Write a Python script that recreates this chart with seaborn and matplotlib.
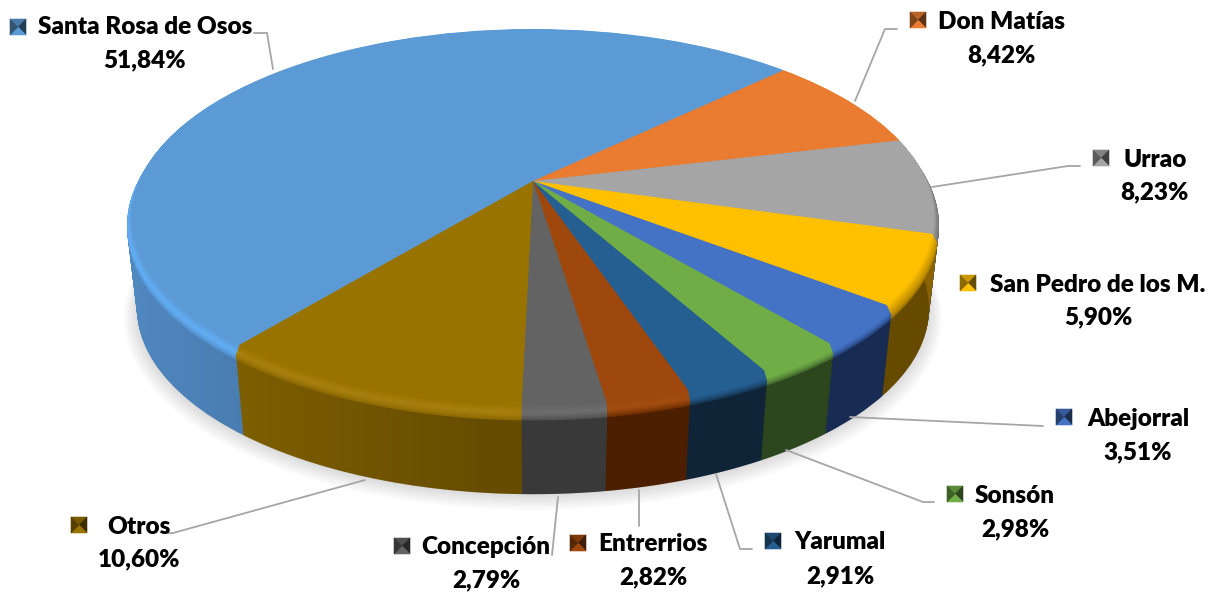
import numpy as np
import matplotlib
matplotlib.use("Agg")
import matplotlib.pyplot as plt
import seaborn as sns
from matplotlib.patches import Circle, Polygon
from matplotlib.transforms import Transform
from matplotlib.colors import to_rgb

# Data
municipios = ["Santa Rosa de Osos", "Don Matías", "Urrao", "San Pedro de los M.", "Abejorral",
              "Sonsón", "Yarumal", "Entrerrios", "Concepción", "Otros"]
porcentajes = [51.84, 8.42, 8.23, 5.90, 3.51, 2.98, 2.91, 2.82, 2.79, 10.60]

# Colours
top_colors = ["#5b9ad5", "#e97c30", "#a5a5a5", "#ffc000", "#4472c4",
              "#70ad47", "#255e91", "#9e480e", "#636363", "#997300"]
wall_colors = ["#5088c0", "#a85a22", "#5a5a5a", "#886300", "#213a6d",
               "#3b5d29", "#14304a", "#652a00", "#4c4c4c", "#886600"]
rim_colors = ["#62aef5", "#c86a28", "#808080", "#d09c00", "#4472c4",
              "#70ad47", "#255e91", "#a34c10", "#6e6e6e", "#a88010"]

# Label layout, in pixels of the 1212x593 picture
name_xy = [(145, 27), (1002, 22), (1155, 160), (1098, 285), (1138, 419),
           (1015, 496), (840, 542), (653, 544), (486, 547), (139, 527)]
pct_xy = [(145, 60), (1001, 55), (1154, 192), (1098, 317), (1138, 452),
          (1015, 529), (840, 576), (653, 577), (486, 580), (139, 559)]
key_xy = [(18, 27), (918, 20), (1101, 158), (968, 283), (1064, 417),
          (955, 494), (773, 541), (578, 543), (402, 546), (79, 525)]
leaders = [[(254, 33), (267, 33), (273, 69)],
           [(897, 29), (885, 29), (855, 101)],
           [(1080, 166), (1068, 166), (932, 187)],
           None,
           [(1043, 426), (850, 417)],
           [(934, 502), (923, 502), (786, 450)],
           [(752, 549), (740, 549), (716, 474)],
           [(639, 526), (639, 490)],
           [(552, 555), (558, 497)],
           [(165, 533), (173, 533), (365, 480)]]

CX, CY = 533, 181
A, B, K = 181.1, 393.6, 0.1915
DEPTH = 92


class Tilt(Transform):
    # perspective view of the unit circle, output in picture pixels
    input_dims = 2
    output_dims = 2
    is_affine = False
    has_inverse = False

    def __init__(self, drop=0, scale=1.0):
        super().__init__()
        self.drop = drop
        self.scale = scale

    def transform_non_affine(self, values):
        values = np.asarray(values, dtype=float)
        w = 1 + K * values[:, 1]
        return np.column_stack([CX + self.scale * B * values[:, 0] / w,
                                CY + self.drop - self.scale * A * values[:, 1] / w])


def mix(c1, c2, t):
    return tuple((1 - t) * a + t * b for a, b in zip(to_rgb(c1), to_rgb(c2)))


def layer_scale(d):
    if d <= 8:
        return 1 + 0.0125 * d / 8
    return 1.0125 - 0.025 * (d - 8) / (DEPTH - 8)


def layer_colors(d):
    out = []
    for top, rim, wall in zip(top_colors, rim_colors, wall_colors):
        if d >= 14:
            out.append(to_rgb(wall))
        elif d >= 6:
            out.append(mix(rim, wall, (d - 6) / 8))
        else:
            out.append(mix(top, rim, d / 6))
    return out


sns.set_theme(style="white")
plt.rcParams["font.family"] = ["Lato", "DejaVu Sans"]

fig = plt.figure(figsize=(12.12, 5.93), dpi=100)
ax = fig.add_axes([0, 0, 1, 1])

# soft shadow under the disc
for i in range(12):
    ax.add_patch(Circle((0, 0), 1, facecolor="black", edgecolor="none", alpha=0.012, zorder=0.5,
                        transform=Tilt(DEPTH + 1 + i * 0.7, 0.9875 + 0.003 * i) + ax.transData))


def draw_layer(d, z):
    wedges, _ = ax.pie(porcentajes, colors=layer_colors(d), startangle=230.5, counterclock=False,
                       wedgeprops=dict(linewidth=0))
    for w in wedges:
        w.set_transform(Tilt(d, layer_scale(d)) + ax.transData)
        w.set_zorder(z)


# side wall, stacked from the bottom up, then bevel and top face
for d in range(DEPTH, 13, -1):
    draw_layer(d, 1)

# wall gets darker from the left towards the middle
shade = np.zeros((1, 400, 4))
shade[0, :, 3] = np.clip(np.linspace(0, 0.25 * 811 / 353, 400), 0, 0.25)
im = ax.imshow(shade, extent=(127, 938, 593, 0), aspect="auto", zorder=2, interpolation="bilinear")
im.set_clip_path(Circle((0, 0), 1, transform=Tilt(DEPTH, layer_scale(DEPTH)) + ax.transData))

for d in np.arange(13, -0.5, -0.5):
    draw_layer(d, 3)

# leader lines
for pts in leaders:
    if pts is not None:
        xs, ys = zip(*pts)
        ax.plot(xs, ys, color="#a6a6a6", lw=1.3, zorder=4, solid_joinstyle="miter")

# labels and bevelled legend keys
HALF = 8
for name, pct, c, nxy, pxy, kxy in zip(municipios, porcentajes, top_colors, name_xy, pct_xy, key_xy):
    ax.text(nxy[0], nxy[1], name, ha="center", va="center", fontsize=17.5, fontweight=800,
            color="black", zorder=5)
    ax.text(pxy[0], pxy[1], f"{pct:.2f}%".replace(".", ","), ha="center", va="center", fontsize=17.5,
            fontweight=800, color="black", zorder=5)
    x, y = kxy
    corners = [(x - HALF, y - HALF), (x + HALF, y - HALF), (x + HALF, y + HALF), (x - HALF, y + HALF)]
    shades = [0.8, 0.4, 1.0, 0.55]  # top, right, bottom, left
    for i, f in enumerate(shades):
        col = tuple(f * v for v in to_rgb(c))
        tri = [corners[i], corners[(i + 1) % 4], (x, y)]
        ax.add_patch(Polygon(tri, closed=True, facecolor=col, edgecolor=col, lw=0.4, zorder=5))

ax.set_aspect("auto")
ax.set_xlim(0, 1212)
ax.set_ylim(593, 0)
ax.axis("off")

fig.savefig("out.png", dpi=100, facecolor="white")
